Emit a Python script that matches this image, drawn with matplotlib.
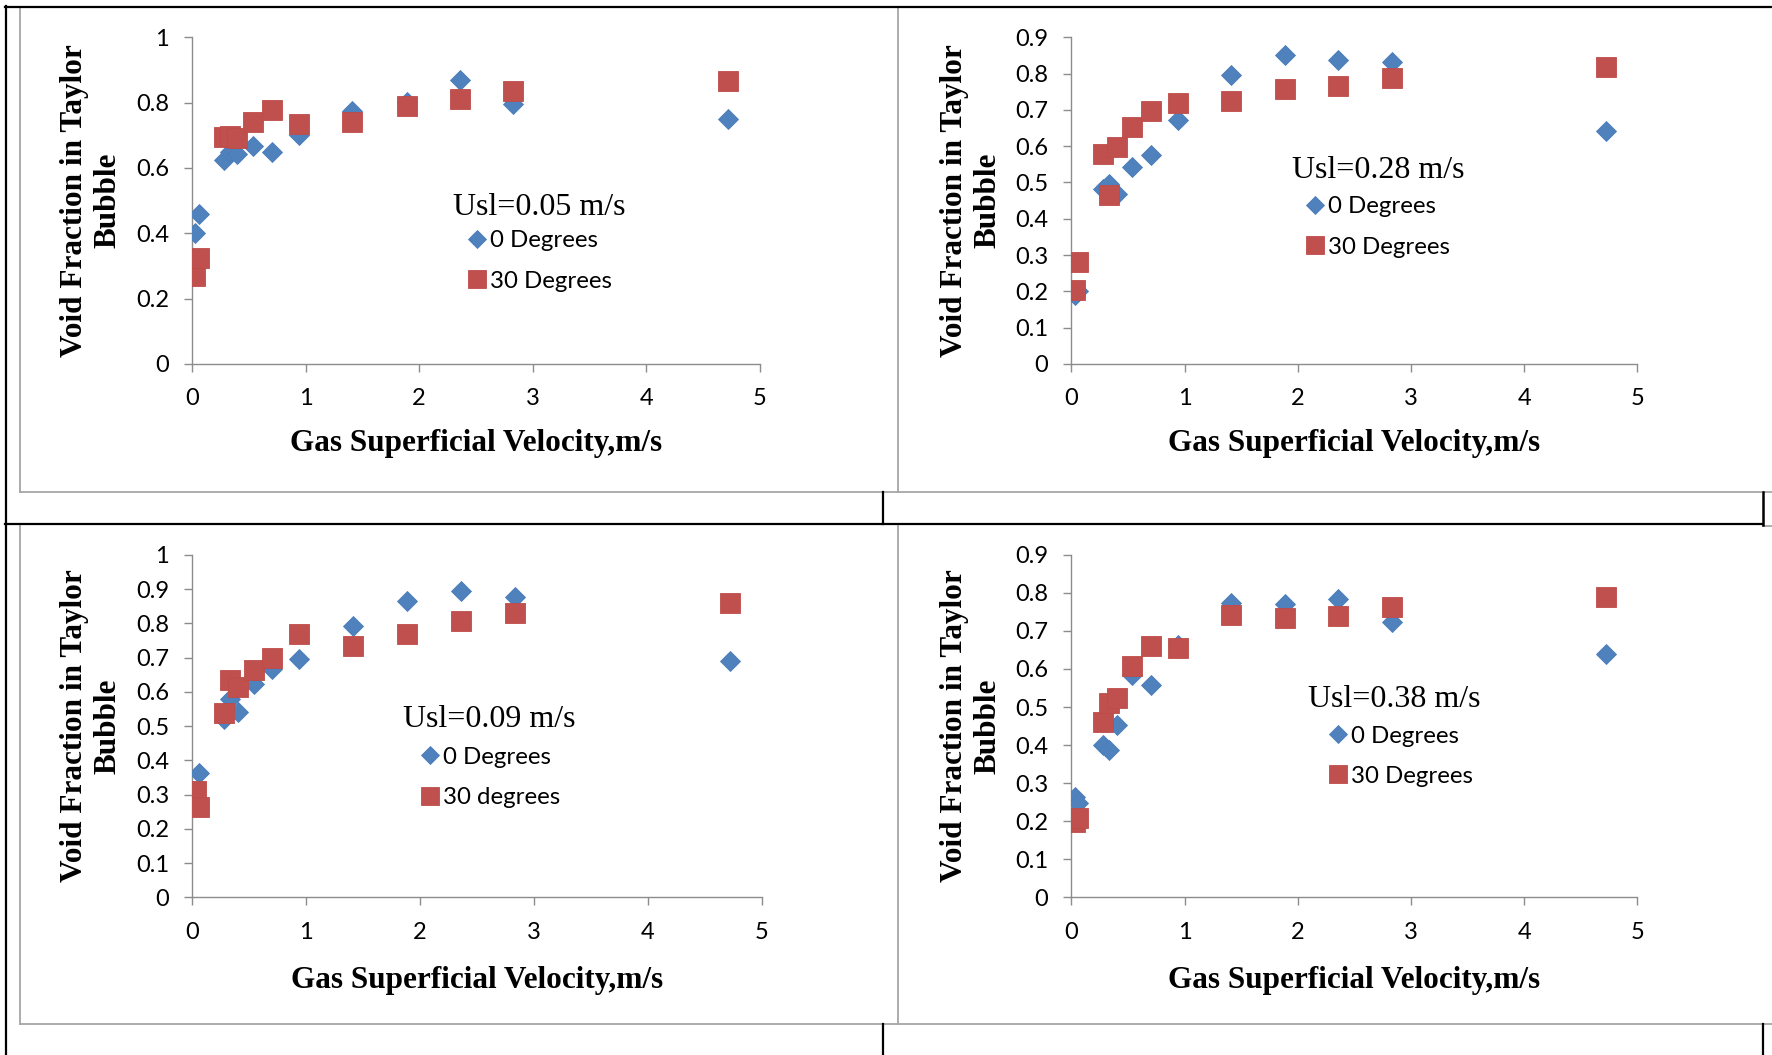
import matplotlib
matplotlib.use("Agg")
import matplotlib.pyplot as plt
from matplotlib.lines import Line2D
from matplotlib.ticker import FuncFormatter

# gas superficial velocity, m/s (same set for every panel)
ug = [0.03, 0.06, 0.28, 0.33, 0.40, 0.54, 0.70, 0.94, 1.41, 1.89, 2.36, 2.83, 4.72]

# void fraction, 0 degrees / 30 degrees, one pair per liquid velocity
a005_0 = [0.40, 0.46, 0.623, 0.648, 0.643, 0.666, 0.649, 0.70, 0.773, 0.803, 0.87, 0.796, 0.75]
a005_30 = [0.269, 0.323, 0.695, 0.698, 0.693, 0.74, 0.776, 0.735, 0.74, 0.789, 0.812, 0.834, 0.866]

a028_0 = [0.19, 0.20, 0.483, 0.495, 0.469, 0.543, 0.575, 0.673, 0.795, 0.85, 0.838, 0.831, 0.643]
a028_30 = [0.205, 0.28, 0.579, 0.465, 0.599, 0.653, 0.697, 0.719, 0.723, 0.757, 0.767, 0.787, 0.819]

a009_0 = [0.283, 0.363, 0.522, 0.58, 0.541, 0.622, 0.668, 0.695, 0.792, 0.865, 0.893, 0.878, 0.69]
a009_30 = [0.31, 0.263, 0.539, 0.634, 0.613, 0.665, 0.698, 0.769, 0.734, 0.768, 0.808, 0.829, 0.859]

a038_0 = [0.263, 0.248, 0.40, 0.388, 0.452, 0.584, 0.559, 0.663, 0.773, 0.77, 0.784, 0.723, 0.639]
a038_30 = [0.198, 0.209, 0.461, 0.511, 0.525, 0.608, 0.66, 0.654, 0.742, 0.733, 0.74, 0.764, 0.788]

usl_labels = ["Usl=0.05 m/s", "Usl=0.28 m/s", "Usl=0.09 m/s", "Usl=0.38 m/s"]
legend_0 = ["0 Degrees", "0 Degrees", "0 Degrees", "0 Degrees"]
legend_30 = ["30 Degrees", "30 Degrees", "30 degrees", "30 Degrees"]
ymax = [1.0, 0.9, 1.0, 0.9]
ystep = [0.2, 0.1, 0.1, 0.1]

BLUE = "#4F81BD"
RED = "#C0504D"
AXC = "#8C8C8C"
SERIF = "Liberation Serif"
SANS = "Lato"

W, H = 1772, 1055
fig = plt.figure(figsize=(W / 100, H / 100), dpi=100)

# axes rectangles in figure fractions
rects = [
    [0.1084, 0.6550, 0.3203, 0.3097],
    [0.6046, 0.6550, 0.3194, 0.3097],
    [0.1084, 0.1495, 0.3215, 0.3246],
    [0.6046, 0.1495, 0.3194, 0.3246],
]
usl_pos = [(0.460, 0.478), (0.389, 0.592), (0.371, 0.519), (0.419, 0.578)]
leg_pos = [(0.485, 0.315), (0.414, 0.419), (0.400, 0.350), (0.454, 0.412)]

series = [(a005_0, a005_30), (a028_0, a028_30), (a009_0, a009_30), (a038_0, a038_30)]

for i, rect in enumerate(rects):
    ax = fig.add_axes(rect)
    s0, s30 = series[i]
    ax.plot(ug, s0, linestyle="none", marker="D", ms=9.8, color=BLUE,
            mec="#4A7EBB", mew=0.6, label=legend_0[i], zorder=3)
    ax.plot(ug, s30, linestyle="none", marker="s", ms=13.8, color=RED,
            mec="#BE4B48", mew=0.6, label=legend_30[i], zorder=4)

    ax.set_xlim(0, 5)
    ax.set_ylim(0, ymax[i])
    ax.set_xticks(range(6))
    n = int(round(ymax[i] / ystep[i]))
    ax.set_yticks([k * ystep[i] for k in range(n + 1)])
    ax.yaxis.set_major_formatter(FuncFormatter(lambda v, p: f"{round(v, 2):g}"))

    for side in ["top", "right"]:
        ax.spines[side].set_visible(False)
    for side in ["left", "bottom"]:
        ax.spines[side].set_color(AXC)
        ax.spines[side].set_linewidth(1.0)
    ax.tick_params(axis="both", direction="out", length=5.5, width=1.0, color=AXC,
                   labelsize=17, labelcolor="black")
    ax.tick_params(axis="x", pad=12)
    ax.tick_params(axis="y", pad=11)
    for lab in ax.get_xticklabels() + ax.get_yticklabels():
        lab.set_family(SANS)
    ax.patch.set_alpha(0)

    ax.set_xlabel("Gas Superficial Velocity,m/s", family=SERIF, fontweight="bold", fontsize=22.5)
    ax.set_ylabel("Void Fraction in Taylor\nBubble", family=SERIF, fontweight="bold",
                  fontsize=22.5, linespacing=1.2)
    ax.xaxis.set_label_coords(0.5, -0.2)
    ax.yaxis.set_label_coords(-0.122, 0.5)

    ax.text(usl_pos[i][0], usl_pos[i][1], usl_labels[i], transform=ax.transAxes,
            family=SERIF, fontsize=23, ha="left", va="center")
    ax.legend(loc="center left", bbox_to_anchor=leg_pos[i], frameon=False,
              prop={"family": SANS, "size": 17.3}, borderpad=0, handlelength=0.8,
              handletextpad=0.15, labelspacing=0.8, numpoints=1, markerscale=0.9,
              borderaxespad=0)

# table / chart frame lines, figure pixel coords
GRAY = "#A6A6A6"


def hline(y, x0, x1, color, lw):
    fig.add_artist(Line2D([x0 / W, x1 / W], [1 - y / H, 1 - y / H], color=color,
                          lw=lw, transform=fig.transFigure))


def vline(x, y0, y1, color, lw):
    fig.add_artist(Line2D([x / W, x / W], [1 - y0 / H, 1 - y1 / H], color=color,
                          lw=lw, transform=fig.transFigure))


vline(20, 8, 492, GRAY, 1.3)
vline(898, 8, 492, GRAY, 1.3)
hline(492, 20, W, GRAY, 1.3)
vline(20, 526, 1024, GRAY, 1.3)
vline(898, 526, 1024, GRAY, 1.3)
hline(1024, 20, W, GRAY, 1.3)
hline(526, 1763, W, GRAY, 1.3)

hline(7, 5, W, "black", 1.6)
vline(6, 6, H, "black", 1.6)
hline(524, 5, 1763, "black", 1.6)
vline(883, 492, 524, "black", 1.6)
vline(1763, 492, 525, "black", 1.8)
vline(883, 1024, H, "black", 1.6)
vline(1763, 1024, H, "black", 1.6)

fig.savefig("out.png", dpi=100, facecolor="white")
